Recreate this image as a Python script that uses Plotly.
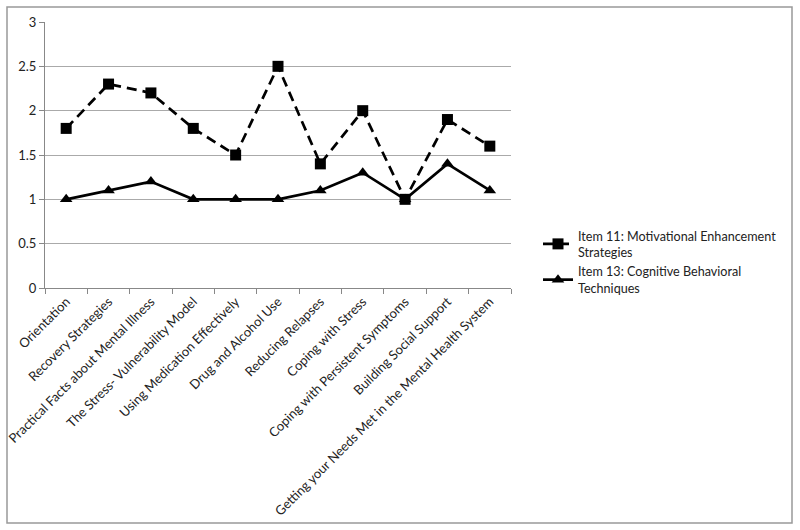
import plotly.graph_objects as go

categories = ["Orientation", "Recovery Strategies", "Practical Facts about Mental Illness",
              "The Stress- Vulnerability Model", "Using Medication Effectively",
              "Drug and Alcohol Use", "Reducing Relapses", "Coping with Stress",
              "Coping with Persistent Symptoms", "Building Social Support",
              "Getting your Needs Met in the Mental Health System"]
item11 = [1.8, 2.3, 2.2, 1.8, 1.5, 2.5, 1.4, 2.0, 1.0, 1.9, 1.6]
item13 = [1.0, 1.1, 1.2, 1.0, 1.0, 1.0, 1.1, 1.3, 1.0, 1.4, 1.1]
y_ticks = [0, 0.5, 1, 1.5, 2, 2.5, 3]
y_labels = ["0", "0.5", "1", "1.5", "2", "2.5", "3"]
name11 = "Item 11: Motivational Enhancement<br>Strategies"
name13 = "Item 13: Cognitive Behavioral<br>Techniques"

font = dict(family="Lato, Open Sans, sans-serif", size=13, color="#222")
legend_font = dict(family="Lato, Open Sans, sans-serif", size=12.6, color="#222")

fig = go.Figure()
fig.add_trace(go.Scatter(x=categories, y=item11, name=name11, mode="lines+markers",
                         line=dict(color="black", width=2.7, dash="10px,6px"),
                         marker=dict(symbol="square", size=11, color="black")))
fig.add_trace(go.Scatter(x=categories, y=item13, name=name13, mode="lines+markers",
                         line=dict(color="black", width=2.7),
                         marker=dict(symbol="triangle-up", size=11, color="black")))

L, R, T, B = 45, 511, 22, 288
W, H = 800, 530
pw, ph = R - L, B - T
fig.update_layout(
    width=W, height=H,
    margin=dict(l=L, r=W - R, t=T, b=H - B, autoexpand=False),
    paper_bgcolor="white", plot_bgcolor="white",
    font=font,
    showlegend=True,
    legend=dict(x=(538 - L) / pw, y=(288 - 221) / ph, xanchor="left", yanchor="top",
                font=legend_font, tracegroupgap=11, itemwidth=30, bgcolor="rgba(0,0,0,0)"),
    xaxis=dict(type="category", tickangle=-45, ticks="outside", tickson="boundaries",
               ticklen=5, tickcolor="#888", showline=True, linecolor="#888", linewidth=1,
               showgrid=False, range=[-0.5, 10.5], automargin=False),
    yaxis=dict(range=[0, 3], tickvals=y_ticks, ticktext=y_labels, ticks="outside",
               ticklen=5, tickcolor="#888",
               showline=True, linecolor="#888", showgrid=True, gridcolor="#aaa",
               gridwidth=1, zeroline=False, automargin=False),
    shapes=[dict(type="rect", xref="paper", yref="paper",
                 x0=(7 - L) / pw, x1=(792 - L) / pw,
                 y0=(B - 523) / ph, y1=(B - 7) / ph,
                 line=dict(color="#999", width=1.5), layer="below")],
)
fig.write_html("out.html", config={"displayModeBar": False},
               post_script="document.body.style.margin='0px';")
